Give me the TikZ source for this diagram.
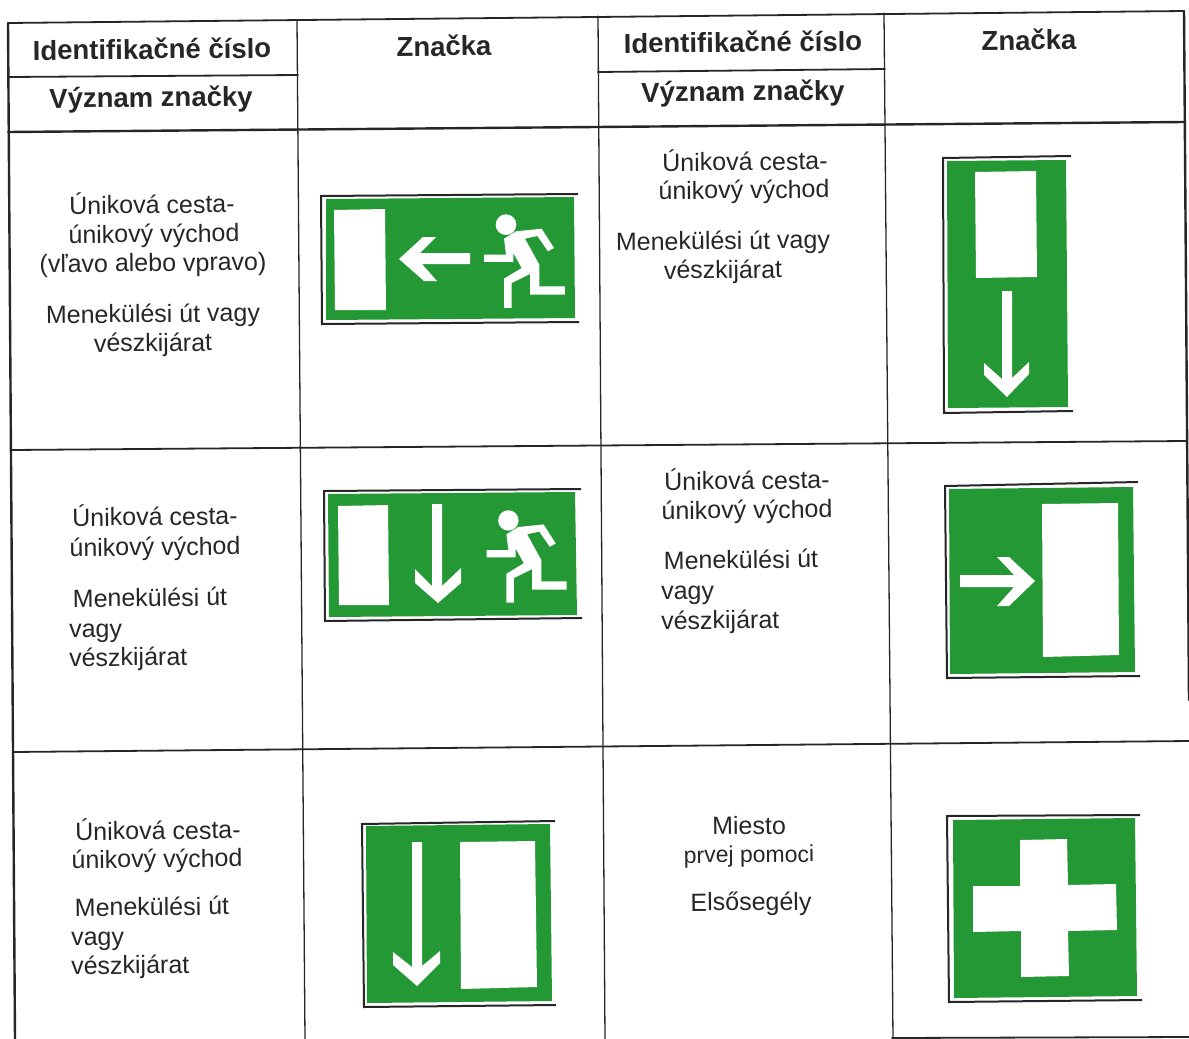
\documentclass[tikz,border=0pt]{standalone}
\usepackage{fontspec}
\setmainfont{Liberation Sans}
\definecolor{signgreen}{HTML}{239834}
\definecolor{inkc}{HTML}{262626}
\tikzset{
  rule/.style={draw=inkc,line width=1.8pt,line cap=round},
  thinrule/.style={draw=inkc,line width=1.3pt,line cap=round},
  thickrule/.style={draw=inkc,line width=2.4pt,line cap=round},
  frameline/.style={draw=inkc,line width=2pt,line cap=butt,line join=miter},
  glyph/.style={fill=white,draw=none},
  head/.style={font=\bfseries\fontsize{27.5}{27.5}\selectfont,text=inkc,inner sep=0pt,rotate=0.6,text height=18pt,text depth=0pt},
  body/.style={font=\fontsize{25}{25}\selectfont,text=inkc,inner sep=0pt,rotate=0.6,text height=17pt,text depth=0pt},
  bodyl/.style={body,anchor=west}
}
\newcommand{\runnerfig}[3]{%
  \begin{scope}[shift={(#1,#2)},x=#3pt,y=-#3pt]
    \fill[white] (78,50) circle[radius=31];
    \fill[white] (108,70)--(185,62)--(222,120)--(204,130)--(172,84)--(135,92)--(178,170)
      --(178,235)--(255,235)--(255,260)--(150,260)--(150,198)--(95,225)--(95,300)
      --(72,300)--(72,212)--(125,180)--(100,135)--(100,162)--(12,162)--(12,140)
      --(78,140)--(72,92)--cycle;
  \end{scope}}
\begin{document}
\begin{tikzpicture}[x=1pt,y=-1pt]
\useasboundingbox (0,0) rectangle (1189,1039);
% table rules
\draw[rule] (8,23)--(1184,11);
\draw[rule] (8,77)--(298,75);
\draw[rule] (598,72)--(885,69);
\draw[thickrule] (8,132)--(1184,122);
\draw[rule] (10.5,450)--(1186,441);
\draw[rule] (12.5,752)--(1189,741);
\draw[rule] (892,1038)--(1189,1037);
\draw[thickrule] (8,23)--(15,1039);
\draw[thinrule] (297,20)--(305,1039);
\draw[thinrule] (598,16)--(605,1039);
\draw[thinrule] (884,13)--(893,1039);
\draw[thickrule] (1184,11)--(1189,700);
% header
\node[head] (h1) at (152,50) {Identifikačné číslo};
\node[head] (h2) at (151,98) {Význam značky};
\node[head] (h3) at (444,47) {Značka};
\node[head] (h4) at (743,43) {Identifikačné číslo};
\node[head] (h5) at (743,92) {Význam značky};
\node[head] (h6) at (1029,41) {Značka};
% row 1
\node[body] (a1) at (152,205) {Úniková cesta-};
\node[body] (a2) at (154,234) {únikový východ};
\node[body] (a3) at (153,263) {(vľavo alebo vpravo)};
\node[body] (a4) at (153,314) {Menekülési út vagy};
\node[body] (a5) at (153,343) {vészkijárat};
\node[body] (b1) at (745,162) {Úniková cesta-};
\node[body] (b2) at (744,190) {únikový východ};
\node[body] (b3) at (723,241) {Menekülési út vagy};
\node[body] (b4) at (723,270) {vészkijárat};
% row 2
\node[body] (c1) at (155,517) {Úniková cesta-};
\node[body] (c2) at (155,547) {únikový východ};
\node[body] (c3) at (150,598) {Menekülési út};
\node[bodyl] (c4) at (69,629) {vagy};
\node[bodyl] (c5) at (69,658) {vészkijárat};
\node[body] (d1) at (747,481) {Úniková cesta-};
\node[body] (d2) at (747,510) {únikový východ};
\node[body] (d3) at (741,560) {Menekülési út};
\node[bodyl] (d4) at (661,591) {vagy};
\node[bodyl] (d5) at (661,621) {vészkijárat};
% row 3
\node[body] (e1) at (158,831) {Úniková cesta-};
\node[body] (e2) at (157,859) {únikový východ};
\node[body] (e3) at (152,907) {Menekülési út};
\node[bodyl] (e4) at (71,937) {vagy};
\node[bodyl] (e5) at (71,966) {vészkijárat};
\node[body] (f1) at (749,826) {Miesto};
\node[body,font=\fontsize{23}{24}\selectfont] (f2) at (749,854) {prvej pomoci};
\node[body] (f3) at (751,902) {Elsősegély};
% sign 1
\fill[signgreen] (326,199)--(574,197)--(575,318)--(326,320)--cycle;
\draw[frameline] (578,194)--(321,196)--(322,324)--(579,322);
\fill[glyph] (334,210)--(385,209)--(386,310)--(335,310)--cycle;
\fill[glyph] (399,259)--(423,237)--(436,237)--(420,253)--(470,253)--(470,264)--(422,264)--(437,281)--(424,281)--cycle;
\runnerfig{480}{208}{0.3333}
% sign 2
\fill[signgreen] (947,161)--(1066,160)--(1068,407)--(948,408)--cycle;
\draw[frameline] (1071,156)--(943,158)--(944,413)--(1073,411);
\fill[glyph] (975,172)--(1036,171)--(1037,277)--(976,278)--cycle;
\fill[glyph] (1002,291)--(1012,291)--(1012,378)--(1029,362)--(1029,374)--(1007,397)--(984,375)--(984,363)--(1002,379)--cycle;
% sign 3
\fill[signgreen] (328,494)--(575,492)--(577,615)--(329,617)--cycle;
\draw[frameline] (581,489)--(324,491)--(325,621)--(582,618);
\fill[glyph] (338,506)--(388,505)--(389,605)--(339,605)--cycle;
\fill[glyph] (432,504)--(442,504)--(442,586)--(461,568)--(461,583)--(438,603)--(415,583)--(415,569)--(432,586)--cycle;
\runnerfig{482.7}{504}{0.3290}
% sign 4
\fill[signgreen] (949,489)--(1133,487)--(1135,672)--(950,674)--cycle;
\draw[frameline] (1138,482)--(945,486)--(947,678)--(1140,676);
\fill[glyph] (1042,504)--(1118,503)--(1119,655)--(1043,657)--cycle;
\fill[glyph] (960,575)--(1014,575)--(997,557)--(1009,557)--(1035,581)--(1009,606)--(997,606)--(1014,587)--(960,587)--cycle;
% sign 5
\fill[signgreen] (366,826)--(550,824)--(552,1001)--(367,1003)--cycle;
\draw[frameline] (555,821)--(362,824)--(364,1007)--(556,1005);
\fill[glyph] (460,842)--(535,841)--(537,987)--(461,989)--cycle;
\fill[glyph] (412,842)--(422,842)--(422,966)--(440,951)--(440,963)--(417,986)--(393,965)--(393,952)--(412,967)--cycle;
% sign 6
\fill[signgreen] (953,820)--(1135,818)--(1137,996)--(954,998)--cycle;
\draw[frameline] (1140,815)--(947,816)--(949,1002)--(1142,1000);
\fill[glyph] (1020,840)--(1067,839)--(1068,885)--(1116,884)--(1117,930)--(1068,931)--(1069,976)--(1021,977)--(1021,931)--(973,932)--(973,886)--(1020,886)--cycle;
\end{tikzpicture}
\end{document}
